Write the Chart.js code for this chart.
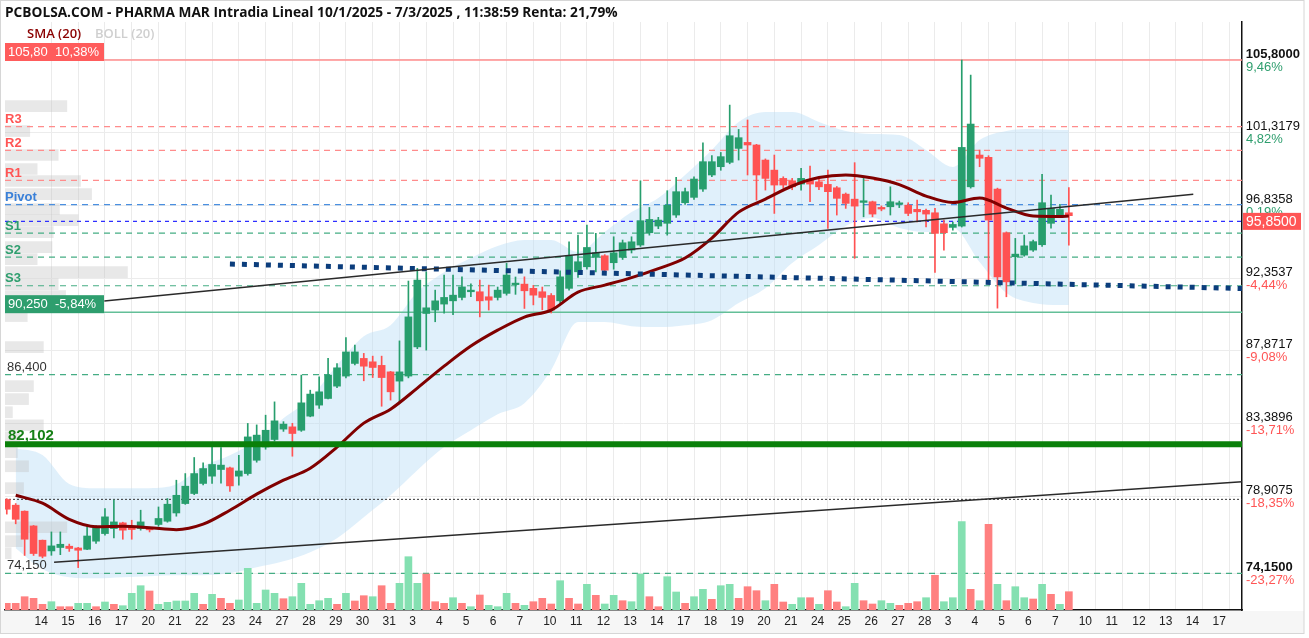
<!DOCTYPE html>
<html><head><meta charset="utf-8">
<script src="https://cdn.jsdelivr.net/npm/chart.js@4.4.1/dist/chart.umd.min.js"></script>
<style>html,body{margin:0;padding:0;background:#fff;overflow:hidden}</style>
</head><body>
<canvas id="c" width="1309" height="638"></canvas>
<script>
const titleText = 'PCBOLSA.COM - PHARMA MAR Intradia Lineal 10/1/2025 - 7/3/2025 , 11:38:59 Renta: 21,79%';
const legendItems = ['SMA (20)', 'BOLL (20)'];
const dayLabels = ['14','15','16','17','20','21','22','23','24','27','28','29','30','31','3','4','5','6','7','10','11','12','13','14','17','18','19','20','21','24','25','26','27','28','3','4','5','6','7','10','11','12','13','14','17'];

const opens = [78.70,78.35,77.98,77.07,76.19,75.53,75.74,75.82,75.71,75.63,
76.13,76.60,76.91,77.26,76.97,76.91,76.93,77.16,77.36,77.87,
78.45,79.07,79.69,80.14,80.55,80.65,80.14,80.30,81.12,81.94,
82.40,83.04,83.18,82.97,83.84,84.52,84.93,85.69,86.31,87.09,
87.40,87.19,86.97,86.57,86.00,86.31,88.11,90.17,90.38,90.75,
90.95,91.16,91.51,91.51,91.20,91.16,91.41,91.95,91.98,91.72,
91.51,91.28,90.95,91.72,92.74,93.05,93.63,93.73,93.30,93.63,
94.08,94.39,95.15,95.56,95.73,96.24,97.00,97.33,97.84,98.71,
99.22,99.49,100.35,100.72,100.56,99.63,99.01,98.50,98.35,98.15,
98.35,98.29,98.13,97.92,97.53,97.22,97.02,97.06,96.71,96.75,
96.90,96.85,96.59,96.53,96.38,95.70,95.48,95.56,97.98,99.94,
99.80,97.84,95.15,93.67,93.77,94.08,94.41,95.73,96.24,96.38];
const highs = [78.75,78.45,78.00,77.10,76.20,76.70,76.70,75.95,75.75,77.05,
77.10,78.14,78.66,77.30,77.42,78.04,77.00,78.24,78.76,79.89,
80.30,81.29,80.96,81.94,81.90,80.70,81.43,83.39,83.30,83.90,
84.72,83.50,83.40,86.37,85.44,86.26,87.40,87.08,88.69,88.22,
87.71,87.54,87.54,86.60,88.48,92.17,92.95,92.74,91.61,92.54,
92.54,92.43,92.00,92.23,91.92,91.80,93.26,92.42,92.43,91.90,
91.80,91.40,92.80,94.59,95.00,95.62,95.11,93.80,94.90,94.70,
94.90,98.35,96.71,96.10,97.74,98.56,97.90,98.60,100.70,99.90,
100.10,103.02,101.52,102.10,100.60,99.70,99.94,98.60,98.50,99.12,
99.26,98.60,99.01,98.00,97.60,99.47,98.50,97.10,96.80,97.98,
97.10,97.00,97.16,96.60,96.65,95.93,95.80,105.80,104.87,100.25,
99.90,97.90,95.20,94.80,95.00,94.70,98.75,97.47,96.90,97.93];
const lows = [77.80,77.20,75.25,75.25,75.10,75.26,75.30,75.50,74.50,75.60,
76.00,76.50,76.33,76.25,76.25,76.81,76.70,77.05,77.30,77.67,
78.40,79.00,79.60,79.69,79.70,79.20,79.58,80.20,81.00,81.80,
82.30,82.90,81.37,82.90,83.80,84.31,84.90,85.60,86.20,87.00,
86.02,86.22,84.45,84.83,84.72,86.20,88.00,87.91,89.66,90.19,
90.10,91.00,91.20,89.96,90.38,91.00,91.30,91.35,90.48,90.70,
90.40,90.20,90.80,91.60,92.40,92.90,92.74,92.70,92.90,93.50,
93.90,94.30,95.00,95.40,95.00,96.10,96.90,97.20,97.70,98.60,
99.00,99.40,99.63,98.71,97.16,97.78,96.34,97.90,97.80,97.78,
97.06,97.80,95.42,96.24,96.65,93.57,96.13,96.13,96.50,96.24,
96.70,96.20,95.82,95.50,92.70,94.08,95.30,95.50,97.90,99.22,
92.00,90.50,91.20,92.00,93.70,94.00,94.30,95.43,96.10,94.39];
const closes = [78.10,77.48,76.25,75.37,75.20,75.84,75.94,75.68,75.57,76.45,
76.97,77.63,77.32,76.81,76.85,77.32,76.83,77.53,78.41,78.96,
79.52,80.30,80.61,80.86,80.82,79.54,80.46,82.56,82.67,82.97,
83.55,83.35,82.77,84.66,85.20,85.34,86.37,86.82,87.80,87.80,
86.92,86.84,86.22,85.34,86.57,89.96,92.23,90.52,90.95,91.16,
91.30,91.81,91.61,90.95,90.99,91.61,92.54,92.00,91.57,91.30,
91.16,90.38,92.43,93.72,93.36,94.24,93.91,92.84,93.91,94.53,
94.59,95.89,95.97,95.93,96.85,97.68,97.68,98.46,99.53,99.53,
99.84,101.13,101.01,100.56,98.71,98.50,98.09,98.09,97.98,98.50,
98.15,97.98,97.68,97.27,96.96,96.79,97.12,96.30,96.61,97.06,
96.96,96.34,96.44,96.30,95.11,95.15,95.66,100.41,101.85,99.74,
95.93,92.43,92.12,93.83,94.34,94.60,97.00,96.65,96.59,96.20];
const volumes = [67,67,133,117,57,83,33,33,67,67,
33,80,57,43,167,243,190,57,77,90,
90,167,57,157,117,67,100,417,67,200,
167,113,133,267,57,93,117,57,167,90,
143,133,243,67,267,533,267,360,83,67,
123,67,33,150,47,33,167,67,47,83,
117,60,293,117,60,257,147,60,147,93,
83,360,133,33,333,180,67,133,207,107,
243,257,117,233,193,93,257,80,57,123,
123,57,193,80,33,267,93,60,93,67,
47,67,83,123,347,83,123,883,207,93,
857,257,93,233,123,110,257,157,57,183];
const volumeUp = [0,0,0,0,0,1,0,0,1,1,
0,1,0,1,1,1,0,1,1,1,
1,1,0,1,0,0,1,1,1,1,
1,0,1,1,1,1,1,0,1,0,
0,1,0,0,1,1,1,0,0,0,
1,0,1,0,1,1,1,0,1,0,
0,0,1,0,0,1,0,1,1,0,
1,1,0,0,1,1,0,1,1,0,
1,1,0,0,0,1,0,0,1,1,
0,1,0,0,1,1,0,0,1,1,
0,0,0,1,0,1,1,1,0,1,
0,1,0,1,1,0,1,0,1,0];

const bandIndex = [1,4,7,10,13,16,19,22,25,28,31,34,37,40,43,46,49,52,55,58,61,64,67,70,73,76,79,82,85,88,91,94,97,100,103,106,109,112,115,118,119];
const bollUpper = [81.86,81.44,79.66,79.40,79.40,79.40,79.64,80.75,81.43,82.36,83.71,84.95,86.98,88.77,89.45,91.49,92.72,93.59,94.33,94.70,94.70,93.96,95.19,96.42,97.29,98.71,100.25,101.98,102.59,102.59,101.98,101.42,101.23,101.17,100.25,99.20,100.86,101.42,101.54,101.48,101.48];
const bollLower = [75.70,74.40,73.91,73.84,73.91,73.97,74.03,74.03,74.15,74.52,74.89,75.45,76.31,77.61,78.96,80.51,81.93,82.97,83.96,84.64,86.68,89.64,89.64,89.39,89.33,89.45,89.76,90.81,91.73,93.28,94.39,95.56,96.05,95.44,95.19,95.44,93.34,91.43,90.81,90.69,90.69];
const sma20 = [78.96,78.47,77.48,77.02,77.05,76.96,76.84,77.18,78.04,79.03,79.89,80.63,81.93,83.41,84.27,85.57,86.92,88.16,89.14,89.95,90.38,91.49,91.92,92.38,92.94,93.59,94.82,96.42,97.22,98.03,98.55,98.71,98.52,98.12,97.41,97.01,97.29,96.67,96.18,96.15,96.18];

const yTickValues = [105.8,101.3179,96.8358,92.3537,87.8717,83.3896,78.9075,74.15];
const yTickPct = ['9,46%','4,82%','0,19%','-4,44%','-9,08%','-13,71%','-18,35%','-23,27%'];

const lastPrice = 95.85;
const periodHigh = 105.80;
const recentLow = 90.25;
const supportLevel = 86.40;
const keySupport = 82.102;
const dottedLevel = 78.71;
const periodLow = 74.15;
const pivotNames = ['R3','R2','R1','Pivot','S1','S2','S3'];
const pivotValues = [101.69,100.23,98.38,96.88,95.13,93.65,91.88];

const trendUpper = [{x:10.93,y:90.94},{x:132.94,y:97.52}];
const trendLower = [{x:5.3,y:74.83},{x:138.4,y:79.80}];
const trendDotted = [{x:25.0,y:93.22},{x:138.4,y:91.71}];

const profilePrices = [102.96,101.42,99.94,99.08,98.34,97.53,96.61,95.93,95.19,94.26,93.52,92.72,91.98,91.24,90.01,88.10,85.69,84.89,84.08,83.28,82.54,81.62,80.75,79.40,76.99,76.13,75.39];
const profileVolumes = [5.0,2.0,4.3,2.6,6.1,7.0,4.4,5.9,3.9,3.8,2.6,9.9,4.3,4.9,1.8,3.1,2.3,1.9,0.6,3.1,1.2,1.0,1.9,1.5,5.0,1.4,0.5];

// ---------- layout / style constants ----------
const X_MIN = -0.2, X_MAX = 138.4;
const Y_MIN = 71.887, Y_MAX = 108.143;
const VOL_MAX = 5880;
const firstLabelSlot = 3.1, firstGridSlot = 5, slotsPerDay = 3;
const GREEN = '#279e6d', RED = '#ff5252';
const VGREEN = '#84e0b1', VRED = '#ff8080';
const SANS = '"Liberation Sans", Arial, sans-serif';

const fmt = (v, d) => v.toFixed(d).replace('.', ',');
const pct = v => fmt((v / lastPrice - 1) * 100, 2) + '%';
const idx = closes.map((_, i) => i);
const isUp = i => closes[i] >= opens[i];

function hLine(v, color, width, dash, order) {
  return {type:'line', xAxisID:'x', yAxisID:'y', data:[{x:X_MIN,y:v},{x:X_MAX,y:v}],
    borderColor:color, borderWidth:width, borderDash:dash||[], pointRadius:0, fill:false, order};
}
function segLine(pts, color, width, dash, order) {
  return {type:'line', xAxisID:'x', yAxisID:'y', data:pts, borderColor:color, borderWidth:width,
    borderDash:dash||[], pointRadius:0, fill:false, order};
}

const datasets = [
  {type:'line', xAxisID:'x', yAxisID:'y', data: bandIndex.map((x,k)=>({x, y:bollUpper[k]})),
   borderWidth:0, pointRadius:0, fill:'+1', backgroundColor:'rgba(186,222,247,0.45)', cubicInterpolationMode:'monotone', order:95},
  {type:'line', xAxisID:'x', yAxisID:'y', data: bandIndex.map((x,k)=>({x, y:bollLower[k]})),
   borderWidth:0, pointRadius:0, fill:false, cubicInterpolationMode:'monotone', order:95},
  {type:'bar', indexAxis:'y', xAxisID:'xProf', yAxisID:'y', grouped:false,
   data: profilePrices.map((p,k)=>({x:profileVolumes[k], y:p})),
   backgroundColor:'rgba(190,190,190,0.35)', barThickness:11, maxBarThickness:11, order:90},
  hLine(periodHigh, '#ff8c8c', 1.5, null, 80),
  hLine(pivotValues[0], '#ff8c8c', 1.2, [6,5], 80),
  hLine(pivotValues[1], '#ff8c8c', 1.2, [6,5], 80),
  hLine(pivotValues[2], '#ff8c8c', 1.2, [6,5], 80),
  hLine(pivotValues[3], '#4a8fe0', 1.2, [6,5], 80),
  hLine(lastPrice, '#2f2fff', 1.2, [4,4], 80),
  hLine(pivotValues[4], '#45ad84', 1.2, [6,5], 80),
  hLine(pivotValues[5], '#45ad84', 1.2, [6,5], 80),
  hLine(pivotValues[6], '#45ad84', 1.2, [6,5], 80),
  hLine(recentLow, '#63bf98', 1.5, null, 80),
  hLine(supportLevel, '#45ad84', 1.2, [6,5], 80),
  hLine(dottedLevel, '#333', 1, [2,2], 80),
  hLine(periodLow, '#45ad84', 1.2, [6,5], 80),
  {type:'bar', xAxisID:'x', yAxisID:'yVol', grouped:false, data: idx.map(i=>({x:i, y:volumes[i]})),
   backgroundColor: idx.map(i => volumeUp[i] ? VGREEN : VRED), barThickness:7, maxBarThickness:7, order:70},
  {type:'bar', xAxisID:'x', yAxisID:'y', grouped:false, data: idx.map(i=>({x:i, y:[lows[i], highs[i]]})),
   backgroundColor: idx.map(i => isUp(i) ? GREEN : RED), barThickness:1, maxBarThickness:1, order:60},
  {type:'bar', xAxisID:'x', yAxisID:'y', grouped:false, data: idx.map(i=>({x:i, y:[opens[i], closes[i]]})),
   backgroundColor: idx.map(i => isUp(i) ? GREEN : RED), barThickness:7, maxBarThickness:7, minBarLength:1.5, order:50},
  {type:'line', xAxisID:'x', yAxisID:'y', data: bandIndex.map((x,k)=>({x, y:sma20[k]})),
   borderColor:'#800000', borderWidth:3, pointRadius:0, fill:false, cubicInterpolationMode:'monotone', order:40},
  segLine(trendUpper, '#2a2a2a', 1.5, null, 30),
  segLine(trendLower, '#2a2a2a', 1.5, null, 30),
  segLine(trendDotted, '#0b3d7c', 5, [5,7], 30),
  hLine(keySupport, '#0a800a', 6, null, 20)
];

const texts = {
  id:'texts',
  beforeDraw(chart) {
    const {ctx, chartArea:a} = chart;
    ctx.save();
    ctx.fillStyle = '#fff'; ctx.fillRect(0, 0, chart.width, chart.height);
    ctx.fillStyle = '#f6f6f6'; ctx.fillRect(1, a.bottom + 1, 1303, 633 - a.bottom - 1);
    ctx.strokeStyle = '#d6d6d6'; ctx.lineWidth = 1; ctx.strokeRect(0.5, 0.5, 1303.5, 633);
    ctx.restore();
  },
  afterDatasetsDraw(chart) {
    const {ctx} = chart;
    const py = v => chart.scales.y.getPixelForValue(v);
    ctx.save();
    ctx.textBaseline = 'middle';
    ctx.textAlign = 'left';
    ctx.font = 'bold 13.7px "Open Sans"';
    ctx.fillStyle = '#111';
    ctx.fillText(titleText, 5, 13);
    ctx.font = '600 13px "Open Sans"';
    ctx.fillStyle = '#8b0000'; ctx.fillText(legendItems[0], 27, 34);
    ctx.fillStyle = '#cfcfcf'; ctx.fillText(legendItems[1], 95, 34);

    const box = (text, v, bg) => {
      const yy = py(v);
      ctx.fillStyle = bg; ctx.fillRect(5, yy - 17, 99, 18);
      ctx.fillStyle = '#fff'; ctx.font = '13px ' + SANS; ctx.fillText(text, 8, yy - 7.5);
    };
    box(fmt(periodHigh, 2) + '  ' + pct(periodHigh), periodHigh, '#ff5c5c');
    box(fmt(recentLow, 3) + '  ' + pct(recentLow), recentLow, '#2e9e6e');

    ctx.font = '13px ' + SANS; ctx.fillStyle = '#333';
    ctx.fillText(fmt(supportLevel, 3), 7, py(supportLevel) - 7);
    ctx.fillText(fmt(periodLow, 3), 7, py(periodLow) - 8);
    ctx.font = 'bold 15px ' + SANS; ctx.fillStyle = '#178017';
    ctx.fillText(fmt(keySupport, 3), 8, py(keySupport) - 8);

    ctx.font = 'bold 13px ' + SANS;
    pivotNames.forEach((n, k) => {
      ctx.fillStyle = n[0] === 'R' ? '#ff5555' : (n[0] === 'S' ? '#2e9e6e' : '#3a80d8');
      ctx.fillText(n, 5, py(pivotValues[k]) - 7);
    });

    const ly = py(lastPrice);
    ctx.fillStyle = '#ff5555'; ctx.fillRect(1243, ly - 8.5, 58, 17);
    ctx.fillStyle = '#fff'; ctx.font = '14px ' + SANS;
    ctx.fillText(fmt(lastPrice, 4), 1246, ly + 0.5);
    ctx.restore();
  }
};

new Chart(document.getElementById('c'), {
  type:'bar',
  data:{datasets},
  plugins:[texts],
  options:{
    responsive:false, animation:false, devicePixelRatio:1,
    layout:{padding:{left:5, top:22, right:0, bottom:5}},
    plugins:{legend:{display:false}, tooltip:{enabled:false}, title:{display:false}},
    scales:{
      x:{type:'linear', position:'bottom', min:X_MIN, max:X_MAX, offset:false, bounds:'data',
        afterBuildTicks:s => { s.ticks = dayLabels.map((_, k) => ({value: firstLabelSlot + k*slotsPerDay})); },
        afterFit:s => { s.height = 23; },
        ticks:{autoSkip:false, maxRotation:0, minRotation:0, align:'start', padding:4, color:'#222',
          font:{family:SANS, size:12}, callback:(v, i) => dayLabels[i]},
        grid:{display:false, drawTicks:false, offset:false}, border:{display:true, color:'#111', width:1.5}},
      xGrid:{type:'linear', position:'bottom', min:X_MIN, max:X_MAX, offset:false, bounds:'data',
        afterBuildTicks:s => { s.ticks = dayLabels.map((_, k) => ({value: firstGridSlot + k*slotsPerDay})); },
        afterFit:s => { s.height = 0; },
        ticks:{display:false}, grid:{color:'#ebebeb', drawTicks:false, offset:false}, border:{display:false}},
      xProf:{type:'linear', display:false, min:0, max:100, offset:false},
      yPct:{type:'linear', position:'right', weight:0, min:Y_MIN, max:Y_MAX, bounds:'data', offset:false,
        afterBuildTicks:s => { s.ticks = yTickValues.map(v => ({value:v})); },
        afterFit:s => { s.width = 67; },
        ticks:{autoSkip:false, padding:4, labelOffset:7, font:{family:SANS, size:13},
          color:c => (yTickPct[c.index] || '').startsWith('-') ? '#ff5555' : '#2e9e6e',
          callback:(v, i) => yTickPct[i]},
        grid:{display:false, drawTicks:false, offset:false}, border:{display:true, color:'#111', width:1.5}},
      y:{type:'linear', position:'right', weight:1, min:Y_MIN, max:Y_MAX, bounds:'data', offset:false,
        afterBuildTicks:s => { s.ticks = yTickValues.map(v => ({value:v})); },
        afterFit:s => { s.width = 0; },
        ticks:{autoSkip:false, mirror:true, crossAlign:'far', padding:-9, labelOffset:-6, color:'#111',
          font:c => ({family:SANS, size:13, weight:(c.index === 0 || c.index === yTickValues.length - 1) ? 'bold' : 'normal'}),
          callback:v => fmt(v, 4)},
        grid:{color:'#ececec', drawTicks:false, offset:false}, border:{display:false}},
      yVol:{type:'linear', display:false, min:0, max:VOL_MAX, offset:false}
    }
  }
});
</script>
</body></html>
